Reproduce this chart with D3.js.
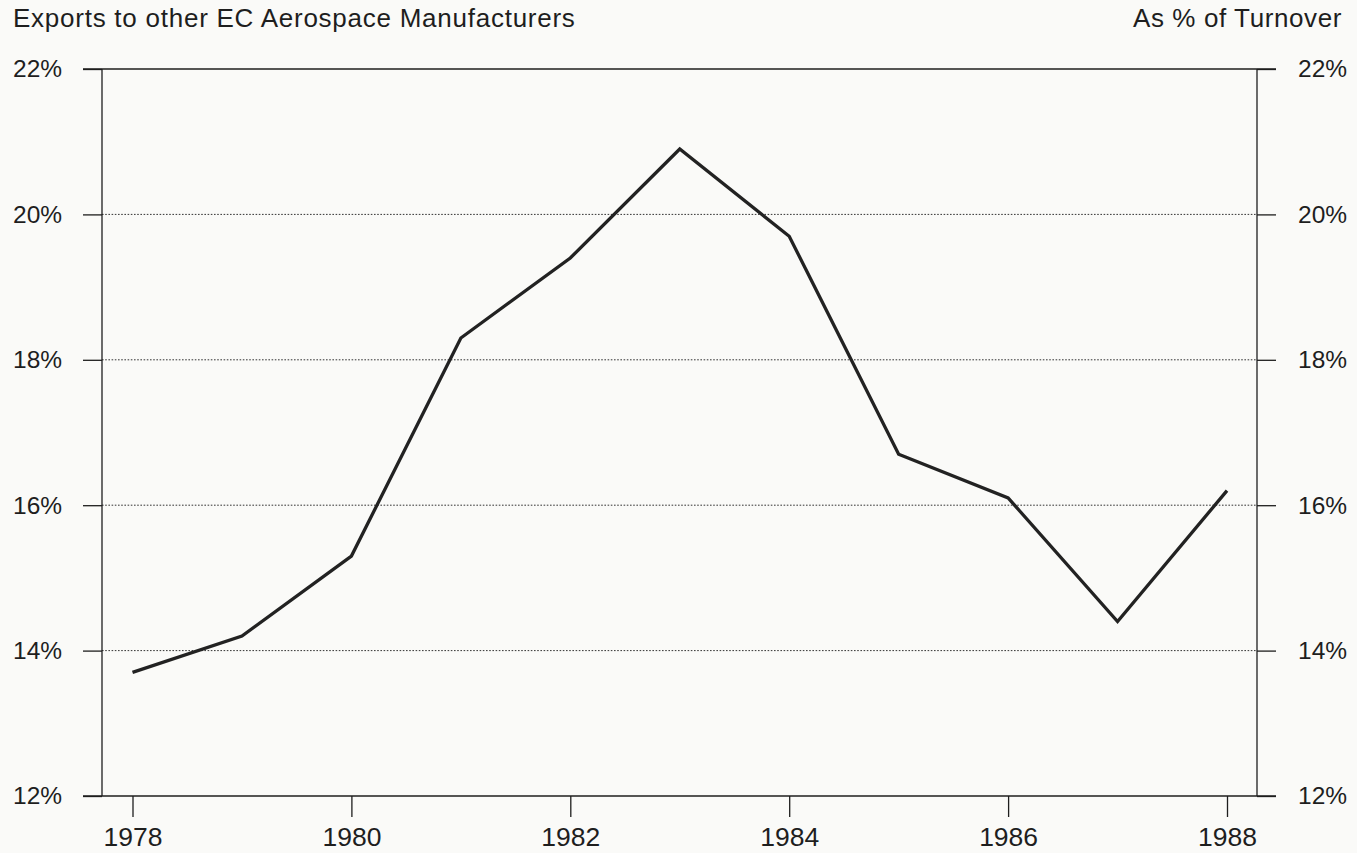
<!DOCTYPE html>
<html>
<head>
<meta charset="utf-8">
<script src="https://cdn.jsdelivr.net/npm/d3@7"></script>
<style>
  html, body { margin: 0; padding: 0; background: #fafaf8; }
  svg { display: block; font-family: "Liberation Sans", Arial, Helvetica, sans-serif; }
</style>
</head>
<body>
<svg id="chart" width="1357" height="853"></svg>
<script>
// Exports to other EC aerospace manufacturers, as % of turnover
const years = [1978, 1979, 1980, 1981, 1982, 1983, 1984, 1985, 1986, 1987, 1988];
const shares = [13.7, 14.2, 15.3, 18.3, 19.4, 20.9, 19.7, 16.7, 16.1, 14.4, 16.2];
const yTicks = [12, 14, 16, 18, 20, 22];
const xTicks = [1978, 1980, 1982, 1984, 1986, 1988];
const titleLeft = "Exports to other EC Aerospace Manufacturers";
const titleRight = "As % of Turnover";

const svg = d3.select("#chart");
const ink = "#1e1e1e";

// Frame geometry
const axisL = 102, axisR = 1257, plotTop = 69, plotBottom = 796;
const tickOut = 19;
const leftLabelX = 13;

const x = d3.scaleLinear().domain([1978, 1988]).range([132.5, 1227]);
const y = d3.scaleLinear().domain([12, 22]).range([plotBottom, plotTop]);

// Dotted gridlines at interior ticks
svg.append("g")
  .selectAll("line")
  .data(yTicks.filter(t => t > 12 && t < 22))
  .join("line")
  .attr("x1", axisL).attr("x2", axisR)
  .attr("y1", d => y(d)).attr("y2", d => y(d))
  .attr("stroke", "#333")
  .attr("stroke-width", 1)
  .attr("stroke-dasharray", "1.6,1.6");

// Left axis (labels flush left at the page margin)
const leftAxis = d3.axisLeft(y).tickValues(yTicks).tickSize(tickOut).tickPadding(20)
  .tickFormat(d => d + "%");
const gL = svg.append("g").attr("transform", `translate(${axisL},0)`).call(leftAxis);
gL.selectAll(".tick text")
  .attr("text-anchor", "start")
  .attr("x", leftLabelX - axisL);

// Right axis
const rightAxis = d3.axisRight(y).tickValues(yTicks).tickSize(tickOut).tickPadding(22)
  .tickFormat(d => d + "%");
const gR = svg.append("g").attr("transform", `translate(${axisR},0)`).call(rightAxis);

// Bottom axis
const bottomAxis = d3.axisBottom(x).tickValues(xTicks).tickSize(21).tickPadding(10)
  .tickFormat(d3.format("d"));
const gB = svg.append("g").attr("transform", `translate(0,${plotBottom})`).call(bottomAxis);

[gL, gR, gB].forEach(g => {
  g.attr("font-family", null).attr("font-size", null);
  g.select(".domain").attr("stroke", ink).attr("stroke-width", 1.3);
  g.selectAll(".tick line").attr("stroke", ink).attr("stroke-width", 1.3);
  g.selectAll(".tick text").attr("fill", ink).style("font-size", "24.5px");
});
gB.selectAll(".tick text").style("font-size", "26.5px");
gL.select(".domain").attr("d", `M0,${plotTop}V${plotBottom}`);
gR.select(".domain").attr("d", `M0,${plotTop}V${plotBottom}`);
gB.select(".domain").remove();

// Top and bottom frame rules spanning past the axes
[plotTop, plotBottom].forEach(yy => {
  svg.append("line")
    .attr("x1", axisL - tickOut).attr("x2", axisR + tickOut)
    .attr("y1", yy).attr("y2", yy)
    .attr("stroke", ink).attr("stroke-width", 1.3);
});

// Series line
const line = d3.line().x((d, i) => x(years[i])).y(d => y(d));
svg.append("path")
  .datum(shares)
  .attr("d", line)
  .attr("fill", "none")
  .attr("stroke", "#222")
  .attr("stroke-width", 3.3)
  .attr("stroke-linejoin", "miter");

// Header texts
svg.append("text")
  .attr("x", 13).attr("y", 27)
  .attr("fill", ink)
  .style("font-size", "26px")
  .style("letter-spacing", "0.75px")
  .text(titleLeft);
svg.append("text")
  .attr("x", 1342).attr("y", 27)
  .attr("text-anchor", "end")
  .attr("fill", ink)
  .style("font-size", "26px")
  .style("letter-spacing", "0.6px")
  .text(titleRight);
</script>
</body>
</html>
